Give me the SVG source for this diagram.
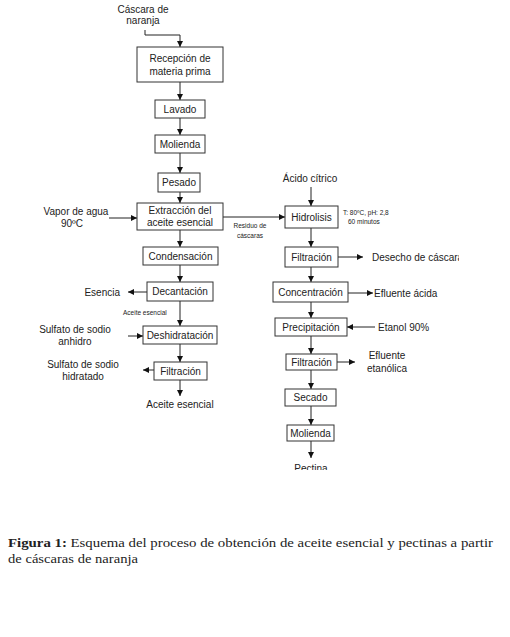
<svg xmlns="http://www.w3.org/2000/svg" width="510" height="637" viewBox="0 0 510 637">
<style>
.box{fill:#fff;stroke:#333;stroke-width:1}
.t{font-family:"Liberation Sans",Arial,sans-serif;font-size:10px;fill:#222;text-anchor:middle}
.s{font-family:"Liberation Sans",Arial,sans-serif;font-size:6.5px;fill:#222}
.l{font-family:"Liberation Sans",Arial,sans-serif;font-size:10px;fill:#222}
.c{fill:none;stroke:#222;stroke-width:1}
.cap{font-family:"Liberation Serif","Times New Roman",serif;font-size:12.5px;fill:#222}
</style>
<defs>
<marker id="ah" viewBox="0 0 10 10" refX="10" refY="5" markerWidth="7" markerHeight="6" markerUnits="userSpaceOnUse" orient="auto">
<path d="M0,0 L10,5 L0,10 z" fill="#111"/>
</marker>
<clipPath id="clipR"><rect x="0" y="0" width="459" height="637"/></clipPath>
<clipPath id="clipB"><rect x="0" y="0" width="510" height="470"/></clipPath>
</defs>
<rect width="510" height="637" fill="#fff"/>
<g id="connectors" class="c" marker-end="url(#ah)">
<path d="M145 30 V35 H180 V47"/>
<path d="M180 82 V100"/>
<path d="M180 118 V135"/>
<path d="M180 153 V173"/>
<path d="M180 192 V203"/>
<path d="M180 230 V247"/>
<path d="M180 265 V282"/>
<path d="M180 301 V326"/>
<path d="M180 344 V362"/>
<path d="M180 380 V396"/>
<path d="M109 218 H137"/>
<path d="M147 292 H128"/>
<path d="M128 336 H143"/>
<path d="M154 370 H143"/>
<path d="M223 217 H285"/>
<path d="M311 187 V206"/>
<path d="M311 228 V247"/>
<path d="M311 267 V282"/>
<path d="M311 302 V318"/>
<path d="M311 336 V354"/>
<path d="M311 370 V389"/>
<path d="M311 406 V425"/>
<path d="M311 441 V458"/>
<path d="M338 257 H363"/>
<path d="M348 293 H373"/>
<path d="M375 327 H347"/>
<path d="M337 362 H355"/>
</g>
<g id="n-recepcion"><rect class="box" x="137" y="47" width="86" height="35"/><text class="t" x="180" y="62">Recepción de</text><text class="t" x="180" y="75">materia prima</text></g>
<g id="n-lavado"><rect class="box" x="155" y="100" width="50" height="18"/><text class="t" x="180" y="113">Lavado</text></g>
<g id="n-molienda1"><rect class="box" x="155" y="135" width="50" height="18"/><text class="t" x="180" y="148">Molienda</text></g>
<g id="n-pesado"><rect class="box" x="158" y="173" width="42" height="19"/><text class="t" x="179" y="186">Pesado</text></g>
<g id="n-extraccion"><rect class="box" x="137" y="203" width="86" height="27"/><text class="t" x="180" y="214">Extracción del</text><text class="t" x="180" y="226">aceite esencial</text></g>
<g id="n-condensacion"><rect class="box" x="143" y="247" width="75" height="18"/><text class="t" x="180.5" y="260">Condensación</text></g>
<g id="n-decantacion"><rect class="box" x="147" y="282" width="66" height="19"/><text class="t" x="180" y="295">Decantación</text></g>
<g id="n-deshidratacion"><rect class="box" x="143" y="326" width="74" height="18"/><text class="t" x="180" y="339">Deshidratación</text></g>
<g id="n-filtracion1"><rect class="box" x="154" y="362" width="53" height="18"/><text class="t" x="180.5" y="375">Filtración</text></g>
<g id="n-hidrolisis"><rect class="box" x="285" y="206" width="53" height="22"/><text class="t" x="311.5" y="221">Hidrolisis</text></g>
<g id="n-filtracion2"><rect class="box" x="285" y="247" width="53" height="20"/><text class="t" x="311.5" y="261">Filtración</text></g>
<g id="n-concentracion"><rect class="box" x="273" y="282" width="75" height="20"/><text class="t" x="310.5" y="296">Concentración</text></g>
<g id="n-precipitacion"><rect class="box" x="275" y="318" width="72" height="18"/><text class="t" x="311" y="331">Precipitación</text></g>
<g id="n-filtracion3"><rect class="box" x="286" y="354" width="51" height="16"/><text class="t" x="311.5" y="366">Filtración</text></g>
<g id="n-secado"><rect class="box" x="285" y="389" width="51" height="17"/><text class="t" x="310.5" y="401">Secado</text></g>
<g id="n-molienda2"><rect class="box" x="287" y="425" width="47" height="16"/><text class="t" x="310.5" y="437">Molienda</text></g>
<g id="labels">
<text class="t" x="143" y="13">Cáscara de</text>
<text class="t" x="143" y="24">naranja</text>
<text class="t" x="76" y="215">Vapor de agua</text>
<text class="t" x="72" y="227">90ºC</text>
<text class="s" x="250" y="228" text-anchor="middle">Residuo de</text>
<text class="s" x="250" y="238" text-anchor="middle">cáscaras</text>
<text class="t" x="310" y="182">Ácido cítrico</text>
<text class="s" x="343" y="215" font-size="7">T: 80ºC, pH: 2,8</text>
<text class="s" x="348" y="224" font-size="7">60 minutos</text>
<text class="l" x="372" y="261" clip-path="url(#clipR)">Desecho de cáscaras</text>
<text class="l" x="374" y="297">Efluente ácida</text>
<text class="l" x="378" y="331">Etanol 90%</text>
<text class="t" x="387" y="359">Efluente</text>
<text class="t" x="387" y="372">etanólica</text>
<text class="t" x="311" y="472" clip-path="url(#clipB)">Pectina</text>
<text class="l" x="120" y="296" text-anchor="end">Esencia</text>
<text class="s" x="123" y="315">Aceite esencial</text>
<text class="t" x="75" y="333">Sulfato de sodio</text>
<text class="t" x="75" y="345">anhidro</text>
<text class="t" x="83" y="368">Sulfato de sodio</text>
<text class="t" x="83" y="380">hidratado</text>
<text class="t" x="180" y="408">Aceite esencial</text>
</g>
<g id="caption">
<text class="cap" x="8" y="547" textLength="485" lengthAdjust="spacingAndGlyphs"><tspan font-weight="bold">Figura 1:</tspan> Esquema del proceso de obtención de aceite esencial y pectinas a partir</text>
<text class="cap" x="8" y="563" textLength="130" lengthAdjust="spacingAndGlyphs">de cáscaras de naranja</text>
</g>
</svg>
